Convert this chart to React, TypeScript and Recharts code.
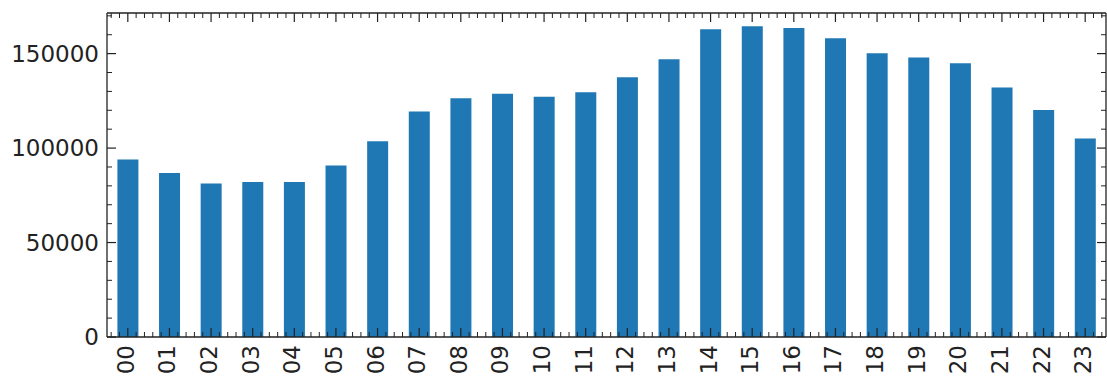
import { Bar, BarChart, Line, XAxis, YAxis } from "recharts";

const hours = [
  "00", "01", "02", "03", "04", "05", "06", "07", "08", "09", "10", "11",
  "12", "13", "14", "15", "16", "17", "18", "19", "20", "21", "22", "23",
];

const counts = [
  94000, 86800, 81300, 82100, 82100, 90800, 103600, 119300, 126400, 128800,
  127200, 129500, 137500, 147000, 162900, 164500, 163600, 158200, 150200,
  147900, 144900, 132000, 120100, 105100,
];

const yTicks = [
  0, 10000, 20000, 30000, 40000, 50000, 60000, 70000, 80000, 90000, 100000,
  110000, 120000, 130000, 140000, 150000, 160000, 170000,
];

const data = hours.map((hour, i) => ({ hour, count: counts[i] }));

const W = 1107;
const H = 379;
const PLOT_LEFT = 107;
const PLOT_RIGHT = 1106;
const BAND = (PLOT_RIGHT - PLOT_LEFT) / hours.length;
const MAJOR = 9;
const MINOR = 5;
const INK = "#222";
const FONT = "DejaVu Sans";
const FONT_SIZE = 23;

// minor tick offsets (in bands) around category index i, axis spans -0.5..23.5
function minorOffsets(i: number) {
  if (i === 0) return [-0.4, -0.2, 0.2, 0.4, 0.6, 0.8];
  if (i === hours.length - 1) return [0.2, 0.4];
  return [0.2, 0.4, 0.6, 0.8];
}

function BottomTick(props: any) {
  const { x, y, payload, index } = props;
  return (
    <g>
      <line x1={x} x2={x} y1={y} y2={y - MAJOR} stroke={INK} strokeWidth={1.2} />
      {minorOffsets(index).map((o) => (
        <line
          key={o}
          x1={x + o * BAND}
          x2={x + o * BAND}
          y1={y}
          y2={y - MINOR}
          stroke={INK}
          strokeWidth={1}
        />
      ))}
      <text
        x={0}
        y={0}
        transform={`translate(${x - 2},${y + 8}) rotate(-90)`}
        textAnchor="end"
        dominantBaseline="central"
        fontFamily={FONT}
        fontSize={FONT_SIZE}
        fill={INK}
      >
        {payload.value}
      </text>
    </g>
  );
}

function TopTick(props: any) {
  const { x, y, index } = props;
  return (
    <g>
      <line x1={x} x2={x} y1={y} y2={y + MAJOR} stroke={INK} strokeWidth={1.2} />
      {minorOffsets(index).map((o) => (
        <line
          key={o}
          x1={x + o * BAND}
          x2={x + o * BAND}
          y1={y}
          y2={y + MINOR}
          stroke={INK}
          strokeWidth={1}
        />
      ))}
    </g>
  );
}

function LeftTick(props: any) {
  const { x, y, payload } = props;
  const major = payload.value % 50000 === 0;
  return (
    <g>
      <line
        x1={x}
        x2={x + (major ? MAJOR : MINOR)}
        y1={y}
        y2={y}
        stroke={INK}
        strokeWidth={major ? 1.2 : 1}
      />
      {major && (
        <text
          x={x - 8}
          y={y}
          textAnchor="end"
          dominantBaseline="central"
          fontFamily={FONT}
          fontSize={FONT_SIZE}
          fill={INK}
        >
          {payload.value}
        </text>
      )}
    </g>
  );
}

function RightTick(props: any) {
  const { x, y, payload } = props;
  const major = payload.value % 50000 === 0;
  return (
    <line
      x1={x}
      x2={x - (major ? MAJOR : MINOR)}
      y1={y}
      y2={y}
      stroke={INK}
      strokeWidth={major ? 1.2 : 1}
    />
  );
}

export default function App() {
  return (
    <div style={{ position: "absolute", left: 0, top: 0, background: "#fff" }}>
      <BarChart
        width={W}
        height={H}
        data={data}
        margin={{ top: 12, right: 0, bottom: 0, left: 0 }}
        barCategoryGap="25%"
      >
        <XAxis
          xAxisId="bottom"
          dataKey="hour"
          orientation="bottom"
          height={42}
          interval={0}
          tickSize={0}
          tickMargin={0}
          tickLine={false}
          axisLine={{ stroke: INK, strokeWidth: 1.3 }}
          tick={<BottomTick />}
        />
        <XAxis
          xAxisId="top"
          dataKey="hour"
          orientation="top"
          height={1}
          interval={0}
          tickSize={0}
          tickMargin={0}
          tickLine={false}
          axisLine={{ stroke: INK, strokeWidth: 1.3 }}
          tick={<TopTick />}
        />
        <YAxis
          yAxisId="left"
          width={PLOT_LEFT}
          domain={[0, 171500]}
          ticks={yTicks}
          interval={0}
          tickSize={0}
          tickMargin={0}
          tickLine={false}
          axisLine={{ stroke: INK, strokeWidth: 1.3 }}
          tick={<LeftTick />}
        />
        <YAxis
          yAxisId="right"
          orientation="right"
          width={W - PLOT_RIGHT}
          domain={[0, 171500]}
          ticks={yTicks}
          interval={0}
          tickSize={0}
          tickMargin={0}
          tickLine={false}
          axisLine={{ stroke: INK, strokeWidth: 1.3 }}
          tick={<RightTick />}
        />
        <Bar
          xAxisId="bottom"
          yAxisId="left"
          dataKey="count"
          fill="#1f77b4"
          isAnimationActive={false}
        />
        <Line
          xAxisId="top"
          yAxisId="right"
          dataKey="count"
          stroke="none"
          dot={false}
          activeDot={false}
          isAnimationActive={false}
        />
      </BarChart>
    </div>
  );
}
